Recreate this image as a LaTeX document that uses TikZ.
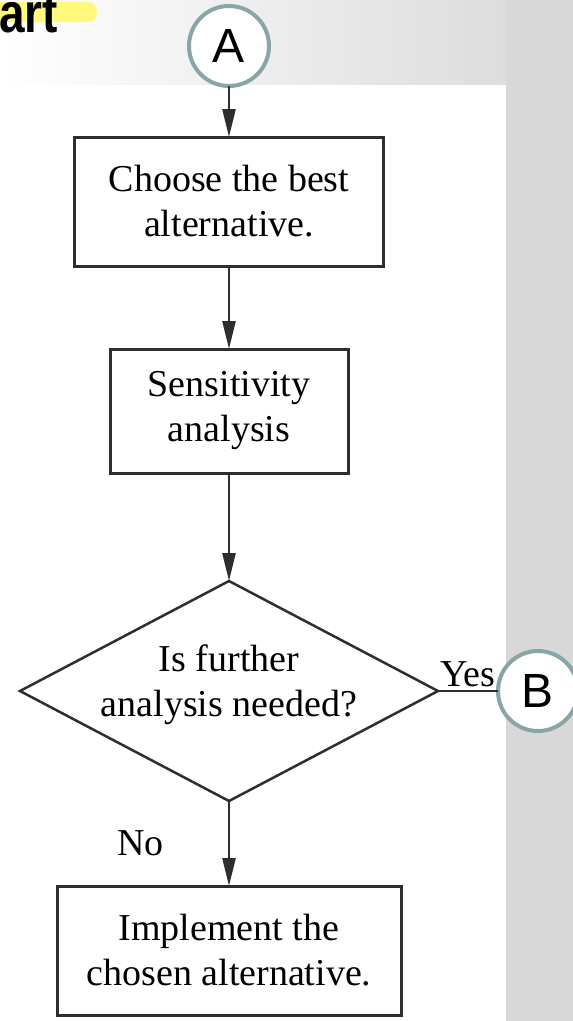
\documentclass[tikz,border=0pt]{standalone}
\usepackage{fontspec}
\setmainfont{Liberation Serif}
\newfontfamily\connfont{Liberation Sans}
\usetikzlibrary{arrows.meta,positioning,shapes.geometric}
\definecolor{ring}{HTML}{88A6A6}
\definecolor{ink}{HTML}{2E2E2E}
\definecolor{hilite}{HTML}{FFF87A}
\definecolor{photo}{HTML}{D8D8D8}
\tikzset{
  box/.style={draw=ink,line width=3pt,fill=white,align=center,inner sep=0pt,outer sep=0pt,font=\fontsize{38}{45}\selectfont},
  dbox/.style={box,diamond,line width=2.5pt},
  lbl/.style={inner sep=0pt,font=\fontsize{38}{45}\selectfont},
  conn/.style={circle,draw=ring,line width=4pt,fill=white,minimum size=80pt,inner sep=0pt,outer sep=0pt,font=\connfont\fontsize{48}{48}\selectfont},
  ar/.style={-{Triangle[length=28pt,width=13pt]},line width=2.5pt,draw=ink},
  ln/.style={line width=2.5pt,draw=ink},
}
\begin{document}
\begin{tikzpicture}[x=1pt,y=-1pt]
\useasboundingbox (0,0) rectangle (573,1021);
% page backdrop
\shade[left color=white,right color=photo] (0,0) rectangle (573,85);
\fill[photo] (506,0) rectangle (573,1021);
\fill[white] (0,85) rectangle (506,1021);
\fill[hilite,rounded corners=9pt] (-10,2) rectangle (97,22);
\node[anchor=base west,inner sep=0pt,xscale=0.82,font=\connfont\bfseries\fontsize{56}{56}\selectfont] (ttl) at (-1,32) {art};
% flow
\node[conn] (a) at (229,46) {A};
\node[box,minimum width=309pt,minimum height=129pt,below=51pt of a] (c1) {Choose the best\\alternative.};
\node[box,minimum width=238pt,minimum height=124pt,below=83pt of c1] (c2) {Sensitivity\\analysis};
\node[dbox,minimum width=418pt,minimum height=220pt,below=108pt of c2] (q) {};
\node[lbl,align=center,yshift=6pt] (qt) at (q) {Is further\\analysis needed?};
\node[box,minimum width=344pt,minimum height=129pt,below=85pt of q] (c4) {Implement the\\chosen alternative.};
\node[conn,right=60pt of q] (b) {B};
\draw[ar] (a) -- (c1);
\draw[ar] (c1) -- (c2);
\draw[ar] (c2) -- (q);
\draw[ar] (q) -- node[lbl,left=64pt] (no) {No} (c4);
\draw[ln] (q.east) -- node[lbl,above=3pt] (yes) {Yes} (b.west);
\end{tikzpicture}
\end{document}
